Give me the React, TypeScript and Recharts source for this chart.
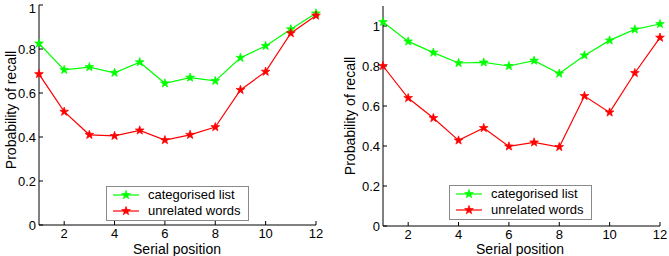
import React from "react"
import { LineChart, Line, XAxis, YAxis } from "recharts"

const positions = [1, 2, 3, 4, 5, 6, 7, 8, 9, 10, 11, 12]
const xTicks = [2, 4, 6, 8, 10, 12]
const yTicks = [0, 0.2, 0.4, 0.6, 0.8, 1]

const leftCategorised = [0.825, 0.705, 0.718, 0.692, 0.74, 0.644, 0.67, 0.655, 0.76, 0.814, 0.89, 0.962]
const leftUnrelated = [0.686, 0.515, 0.41, 0.405, 0.43, 0.386, 0.41, 0.445, 0.614, 0.697, 0.872, 0.952]

const rightCategorised = [1.02, 0.923, 0.867, 0.815, 0.818, 0.8, 0.827, 0.762, 0.853, 0.928, 0.983, 1.01]
const rightUnrelated = [0.8, 0.64, 0.54, 0.428, 0.49, 0.398, 0.418, 0.395, 0.65, 0.568, 0.765, 0.942]

const GREEN = "#00ff00"
const RED = "#ff0000"
const FONT = "'Liberation Sans', Arial, sans-serif"

const starPath = (cx: number, cy: number, r: number) => {
    const inner = r * 0.4
    let d = ""
    for (let i = 0; i < 10; i++) {
        const rad = i % 2 === 0 ? r : inner
        const a = -Math.PI / 2 + (i * Math.PI) / 5
        d += (i === 0 ? "M" : "L") + (cx + rad * Math.cos(a)).toFixed(2) + "," + (cy + rad * Math.sin(a)).toFixed(2)
    }
    return d + "Z"
}

const Star = (color: string) => (props: any) => {
    const { cx, cy, index } = props
    if (cx == null || cy == null) return <g key={index} />
    return <path key={index} d={starPath(cx, cy, 4.6)} fill={color} stroke={color} strokeWidth={0.7} />
}

const LegendBox = ({ left, top }: { left: number; top: number }) => (
    <div
        style={{
            position: "absolute",
            left,
            top,
            width: 141,
            height: 33,
            border: "1px solid #8a8a8a",
            background: "#fff",
            fontFamily: FONT,
            fontSize: 13,
            color: "#000",
        }}
    >
        {[
            { label: "categorised list", color: GREEN, top: 0 },
            { label: "unrelated words", color: RED, top: 16 },
        ].map((e) => (
            <div key={e.label} style={{ position: "absolute", left: 0, top: e.top, height: 16, width: 141 }}>
                <svg width={34} height={16} style={{ position: "absolute", left: 4, top: 0 }}>
                    <line x1={2} y1={8} x2={28} y2={8} stroke={e.color} strokeWidth={1.2} />
                    <path d={starPath(15, 8, 4.6)} fill={e.color} stroke={e.color} strokeWidth={0.7} />
                </svg>
                <span style={{ position: "absolute", left: 41, top: 0, lineHeight: "16px", whiteSpace: "nowrap" }}>
                    {e.label}
                </span>
            </div>
        ))}
    </div>
)

type PanelProps = {
    categorised: number[]
    unrelated: number[]
    width: number
    yMax: number
    top: number
    right: number
    xAxisHeight: number
    yAxisWidth: number
}

function Panel({ categorised, unrelated, width, yMax, top, right, xAxisHeight, yAxisWidth }: PanelProps) {
    const data = positions.map((p, i) => ({ pos: p, cat: categorised[i], unr: unrelated[i] }))
    const tickStyle = { fill: "#000", fontSize: 13, fontFamily: FONT }
    return (
        <LineChart width={width} height={256} data={data} margin={{ top, right, bottom: 0, left: 0 }}>
            <XAxis
                dataKey="pos"
                type="number"
                domain={[1, 12]}
                ticks={xTicks}
                tick={tickStyle}
                tickSize={-4}
                tickMargin={8}
                stroke="#000"
                height={xAxisHeight}
            />
            <YAxis
                type="number"
                domain={[0, yMax]}
                ticks={yTicks}
                tick={tickStyle}
                tickSize={-4}
                tickMargin={7}
                stroke="#000"
                width={yAxisWidth}
                tickFormatter={(v: number) => String(Math.round(v * 10) / 10)}
            />
            <Line
                dataKey="cat"
                stroke={GREEN}
                strokeWidth={1.2}
                dot={Star(GREEN)}
                activeDot={false}
                isAnimationActive={false}
            />
            <Line
                dataKey="unr"
                stroke={RED}
                strokeWidth={1.2}
                dot={Star(RED)}
                activeDot={false}
                isAnimationActive={false}
            />
        </LineChart>
    )
}

const titleStyle: React.CSSProperties = {
    position: "absolute",
    fontFamily: FONT,
    fontSize: 14,
    color: "#000",
    whiteSpace: "nowrap",
    lineHeight: "12px",
}

export default function App() {
    return (
        <div style={{ position: "absolute", left: 0, top: 0, width: 669, height: 256, background: "#fff", overflow: "hidden" }}>
            <div style={{ position: "absolute", left: 0, top: 0 }}>
                <Panel
                    categorised={leftCategorised}
                    unrelated={leftUnrelated}
                    width={335}
                    yMax={1}
                    top={5}
                    right={19}
                    xAxisHeight={31}
                    yAxisWidth={39}
                />
            </div>
            <div style={{ position: "absolute", left: 335, top: 0 }}>
                <Panel
                    categorised={rightCategorised}
                    unrelated={rightUnrelated}
                    width={334}
                    yMax={1.1}
                    top={6}
                    right={9}
                    xAxisHeight={30}
                    yAxisWidth={48}
                />
            </div>
            <LegendBox left={106} top={186} />
            <LegendBox left={449} top={185} />
            <div style={{ ...titleStyle, left: 177, top: 249, transform: "translate(-50%, -50%)" }}>Serial position</div>
            <div style={{ ...titleStyle, left: 520, top: 249, transform: "translate(-50%, -50%)" }}>Serial position</div>
            <div style={{ ...titleStyle, left: 11, top: 110, transform: "translate(-50%, -50%) rotate(-90deg)" }}>
                Probability of recall
            </div>
            <div style={{ ...titleStyle, left: 350, top: 116, transform: "translate(-50%, -50%) rotate(-90deg)" }}>
                Probability of recall
            </div>
        </div>
    )
}
